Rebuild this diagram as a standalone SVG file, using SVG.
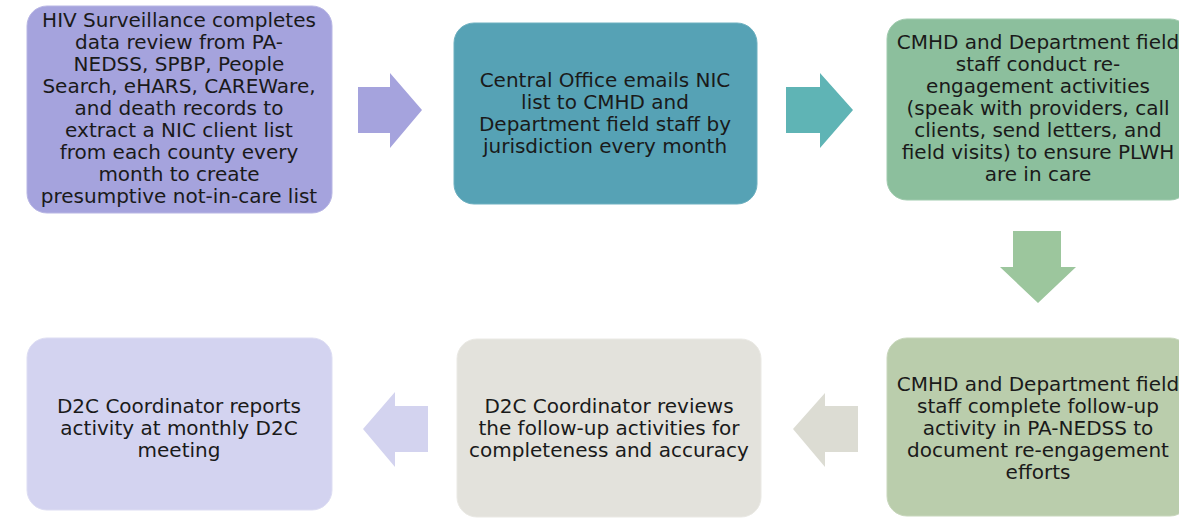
<svg xmlns="http://www.w3.org/2000/svg" width="1179" height="518" viewBox="0 0 1179 518">
<style>
.t{font-family:"DejaVu Sans","Verdana",sans-serif;font-size:20px;fill:#1a1a1a;text-anchor:middle}
.b{stroke-width:1}
</style>
<rect width="1179" height="518" fill="#ffffff"/>
<g id="connectors">
<polygon points="358,87 390,87 390,73 422,110 390,148 390,133 358,133" fill="#A5A3DD"/>
<polygon points="786,87 820,87 820,73 853,110 820,148 820,133 786,133" fill="#5FB4B5"/>
<polygon points="1013,231 1061,231 1061,267 1076,267 1038,303 1000,267 1013,267" fill="#9CC69D"/>
<polygon points="858,406 825,406 825,393 793,429 825,467 825,452 858,452" fill="#DCDCD3"/>
<polygon points="428,406 395,406 395,392 363,429 395,467 395,452 428,452" fill="#D3D3EF"/>
</g>
<g id="n1">
<rect x="27" y="6" width="305" height="207" rx="20" fill="#A5A3DD" stroke="#B8B6E4" class="b"/>
<text class="t"><tspan x="179" y="27">HIV Surveillance completes</tspan><tspan x="179" y="49">data review from PA-</tspan><tspan x="179" y="71">NEDSS, SPBP, People</tspan><tspan x="179" y="93">Search, eHARS, CAREWare,</tspan><tspan x="179" y="115">and death records to</tspan><tspan x="179" y="137">extract a NIC client list</tspan><tspan x="179" y="159">from each county every</tspan><tspan x="179" y="181">month to create</tspan><tspan x="179" y="203">presumptive not-in-care list</tspan></text>
</g>
<g id="n2">
<rect x="454" y="23" width="303" height="181" rx="20" fill="#56A2B5" stroke="#6DB0C0" class="b"/>
<text class="t"><tspan x="605" y="87">Central Office emails NIC</tspan><tspan x="605" y="109">list to CMHD and</tspan><tspan x="605" y="131">Department field staff by</tspan><tspan x="605" y="153">jurisdiction every month</tspan></text>
</g>
<g id="n3">
<rect x="887" y="19" width="303" height="181" rx="20" fill="#8CBF9D" stroke="#A0CBAE" class="b"/>
<text class="t"><tspan x="1038" y="49">CMHD and Department field</tspan><tspan x="1038" y="71">staff conduct re-</tspan><tspan x="1038" y="93">engagement activities</tspan><tspan x="1038" y="115">(speak with providers, call</tspan><tspan x="1038" y="137">clients, send letters, and</tspan><tspan x="1038" y="159">field visits) to ensure PLWH</tspan><tspan x="1038" y="181">are in care</tspan></text>
</g>
<g id="n4">
<rect x="887" y="338" width="303" height="178" rx="20" fill="#BACDAC" stroke="#C8D7BC" class="b"/>
<text class="t"><tspan x="1038" y="391">CMHD and Department field</tspan><tspan x="1038" y="413">staff complete follow-up</tspan><tspan x="1038" y="435">activity in PA-NEDSS to</tspan><tspan x="1038" y="457">document re-engagement</tspan><tspan x="1038" y="479">efforts</tspan></text>
</g>
<g id="n5">
<rect x="457" y="339" width="304" height="178" rx="20" fill="#E3E2DC" stroke="#EAE9E4" class="b"/>
<text class="t"><tspan x="609" y="413">D2C Coordinator reviews</tspan><tspan x="609" y="435">the follow-up activities for</tspan><tspan x="609" y="457">completeness and accuracy</tspan></text>
</g>
<g id="n6">
<rect x="27" y="338" width="305" height="172" rx="20" fill="#D3D3F0" stroke="#DDDDF3" class="b"/>
<text class="t"><tspan x="179" y="413">D2C Coordinator reports</tspan><tspan x="179" y="435">activity at monthly D2C</tspan><tspan x="179" y="457">meeting</tspan></text>
</g>
</svg>
